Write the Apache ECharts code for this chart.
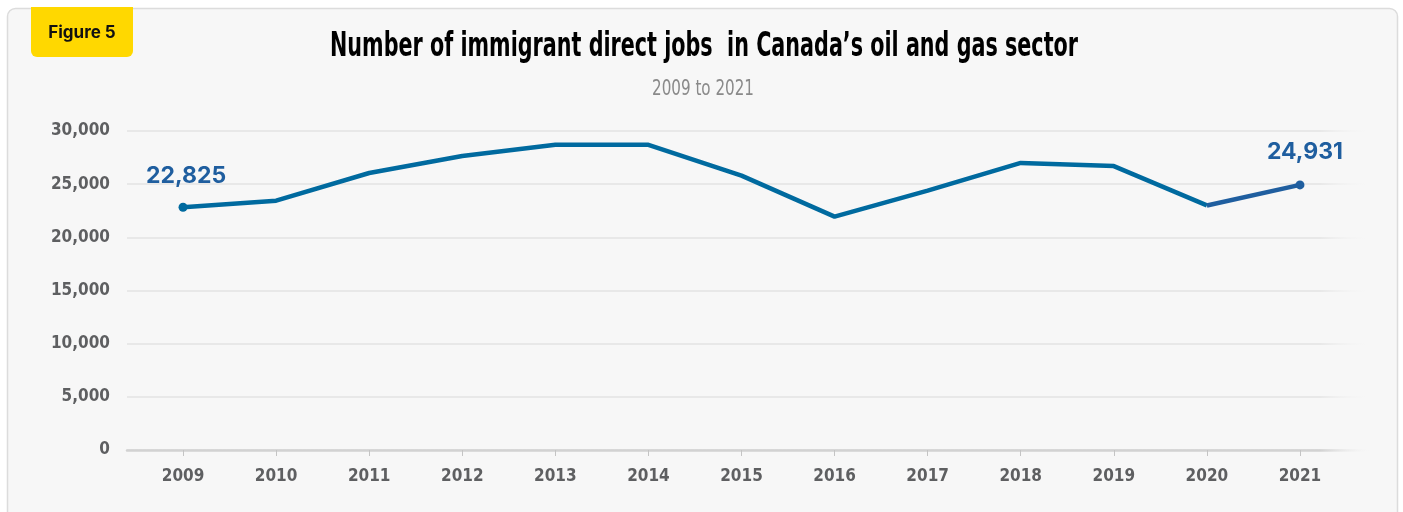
<!DOCTYPE html>
<html>
<head>
<meta charset="utf-8">
<title>Number of immigrant direct jobs in Canada’s oil and gas sector</title>
<script src="https://cdn.jsdelivr.net/npm/echarts@6/dist/echarts.min.js"></script>
<style>
  html, body { margin: 0; padding: 0; background: #ffffff; }
  #chart { width: 1403px; height: 512px; }
</style>
</head>
<body>
<div id="chart"></div>
<script>
// Immigrant direct jobs in the oil and gas sector, by year
const years = ['2009', '2010', '2011', '2012', '2013', '2014', '2015', '2016', '2017', '2018', '2019', '2020', '2021'];
const immigrantJobs = [22825, 23450, 26050, 27650, 28700, 28700, 25800, 21950, 24400, 27000, 26700, 23000, 24931];

// Value axis ticks
const yMin = 0;
const yMax = 30000;
const yStep = 5000;

const figureTag = 'Figure 5';
const titleText = 'Number of immigrant direct jobs  in Canada’s oil and gas sector';
const subtitleText = '2009 to 2021';

const NARROW = '"Liberation Sans Narrow", "DejaVu Sans Condensed", sans-serif';
const lineBlue = '#006a9f';
const endBlue = '#1f5e9f';
const gridGrey = '#e3e3e3';
const tickText = '#5e5f61';

// Measure a string so condensed headings can be fitted to a width
function textWidth(font, text) {
  const ctx = document.createElement('canvas').getContext('2d');
  ctx.font = font;
  return ctx.measureText(text).width;
}
const titleFont = 'bold 33px ' + NARROW;
const titleScale = 748 / textWidth(titleFont, titleText);
const subFont = '22px ' + NARROW;
const subScale = 102 / textWidth(subFont, subtitleText);

// Horizontal rules fade out toward the right edge of the panel
const fadeStroke = (c) => new echarts.graphic.LinearGradient(0, 0, 1403, 0, [
  { offset: 0, color: c },
  { offset: 1320 / 1403, color: c },
  { offset: 1372 / 1403, color: 'rgba(247,247,247,0)' },
  { offset: 1, color: 'rgba(247,247,247,0)' }
], true);

const fmt = (v) => v.toLocaleString('en-US');
const lastIdx = immigrantJobs.length - 1;

const valueLabel = (dx, dist) => ({
  show: true,
  position: 'top',
  distance: dist,
  offset: [dx, 0],
  formatter: (p) => fmt(p.value),
  color: endBlue,
  fontFamily: 'Inter, "Noto Sans", sans-serif',
  fontWeight: 700,
  fontSize: 23
});

// Main trace: 2009 through 2020, marker and label on the first year
const mainData = immigrantJobs.slice(0, lastIdx).map((v, i) => i === 0
  ? { value: v, symbol: 'circle', symbolSize: 9, label: valueLabel(3, 15) }
  : { value: v, symbol: 'none' });

// Closing segment 2020 to 2021, marker and label on the last year
const tailData = immigrantJobs.map((v, i) => {
  if (i === lastIdx) return { value: v, symbol: 'circle', symbolSize: 9, label: valueLabel(5, 17) };
  if (i === lastIdx - 1) return { value: v, symbol: 'none' };
  return null;
});

const chart = echarts.init(document.getElementById('chart'), null, { renderer: 'canvas' });

chart.setOption({
  animation: false,
  backgroundColor: '#ffffff',
  graphic: [
    {
      type: 'rect', z: -100,
      shape: { x: 7.5, y: 8.5, width: 1390, height: 530, r: 8 },
      style: { fill: '#f7f7f7', stroke: '#dcdcdc', lineWidth: 1.5 }
    },
    {
      type: 'rect', z: 50,
      shape: { x: 31, y: 7, width: 102, height: 50, r: [0, 0, 6, 6] },
      style: { fill: '#ffd800' }
    },
    {
      type: 'text', z: 51, x: 82, y: 33,
      style: {
        text: figureTag, fill: '#111111',
        font: 'bold 17px Inter, "Noto Sans", sans-serif',
        align: 'center', verticalAlign: 'middle'
      }
    },
    {
      type: 'text', z: 51, x: 704, y: 47, scaleX: titleScale,
      style: {
        text: titleText, fill: '#000000', font: titleFont,
        align: 'center', verticalAlign: 'middle'
      }
    },
    {
      type: 'text', z: 51, x: 703, y: 89, scaleX: subScale,
      style: {
        text: subtitleText, fill: '#8a8a8a', font: subFont,
        align: 'center', verticalAlign: 'middle'
      }
    }
  ],
  grid: [
    // rules and value labels
    { left: 127, right: 33, top: 131, bottom: 62 },
    // plotted years
    { left: 136.5, right: 56.5, top: 131, bottom: 62 }
  ],
  xAxis: [
    {
      gridIndex: 0, type: 'value', min: 0, max: 1,
      axisLine: { show: true, onZero: false, lineStyle: { color: fadeStroke('#d2d2d2'), width: 2.5 } },
      axisTick: { show: false }, axisLabel: { show: false }, splitLine: { show: false }
    },
    {
      gridIndex: 1, type: 'category', data: years, boundaryGap: true,
      axisLine: { show: false },
      axisTick: { show: true, alignWithLabel: true, length: 6, lineStyle: { color: '#c4c4c4', width: 1 } },
      axisLabel: {
        margin: 18, color: tickText, fontFamily: NARROW, fontWeight: 'bold', fontSize: 17
      },
      splitLine: { show: false }
    }
  ],
  yAxis: [
    {
      gridIndex: 0, type: 'value', min: yMin, max: yMax, interval: yStep,
      axisLine: { show: false }, axisTick: { show: false },
      axisLabel: {
        margin: 17, color: tickText, fontFamily: NARROW, fontWeight: 'bold', fontSize: 17,
        formatter: (v) => fmt(v)
      },
      splitLine: { show: true, lineStyle: { color: fadeStroke(gridGrey), width: 1.5 } }
    },
    {
      gridIndex: 1, type: 'value', min: yMin, max: yMax, interval: yStep, show: false
    }
  ],
  series: [
    {
      type: 'line', xAxisIndex: 1, yAxisIndex: 1, z: 3,
      data: mainData,
      lineStyle: { color: lineBlue, width: 4.5 },
      itemStyle: { color: lineBlue },
      emphasis: { disabled: true }
    },
    {
      type: 'line', xAxisIndex: 1, yAxisIndex: 1, z: 4,
      data: tailData,
      connectNulls: false,
      lineStyle: { color: endBlue, width: 4.5 },
      itemStyle: { color: endBlue },
      emphasis: { disabled: true }
    }
  ]
});
</script>
</body>
</html>
